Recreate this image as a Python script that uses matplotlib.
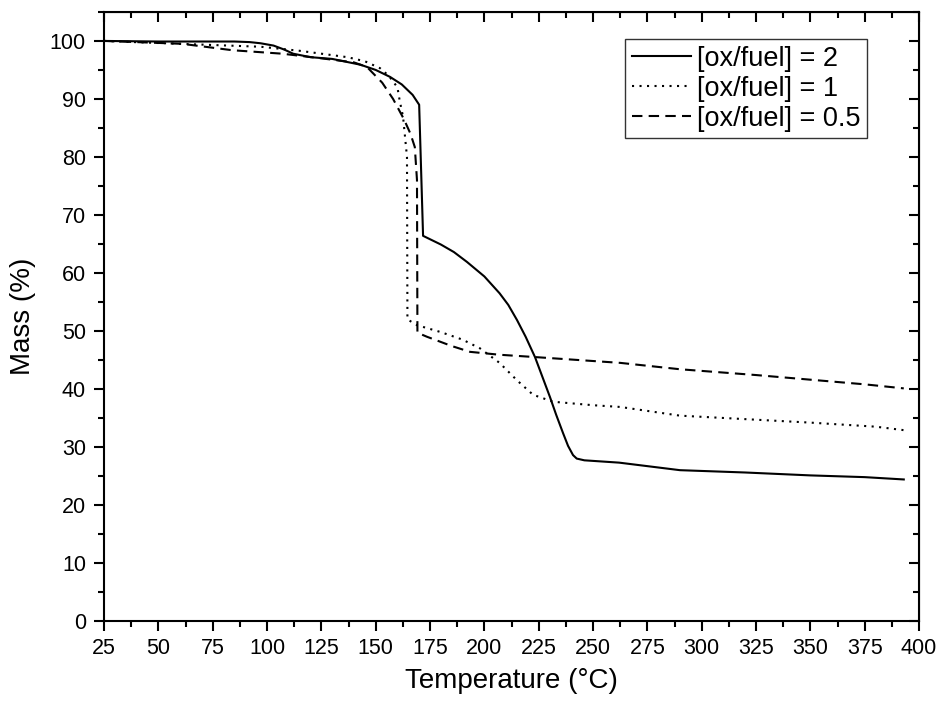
import matplotlib
matplotlib.use("Agg")
import matplotlib.pyplot as plt
from matplotlib.ticker import MultipleLocator

plt.rcParams['font.family'] = ['Liberation Sans', 'DejaVu Sans']

# [ox/fuel] = 2 (solid)
t2 = [25, 50, 70, 85, 92, 97, 103, 108, 112, 120, 130, 143, 150, 156.6, 162, 167, 170, 171.8,
      180, 186, 192, 200, 207, 211, 215, 219, 223.3, 227, 230.2, 233, 236.2, 238.5, 240.8, 242.5, 246,
      262, 290, 320, 350, 375, 393]
m2 = [100, 99.9, 99.9, 99.9, 99.8, 99.6, 99.2, 98.5, 97.8, 97.2, 96.9, 95.9, 95.0, 93.8, 92.5, 90.7, 89.0, 66.4,
      64.9, 63.6, 61.9, 59.4, 56.5, 54.5, 51.9, 49.0, 45.5, 41.8, 38.6, 35.6, 32.4, 30.2, 28.6, 28.0, 27.7,
      27.3, 26.0, 25.6, 25.1, 24.8, 24.4]

# [ox/fuel] = 1 (dotted)
t1 = [25, 60, 97, 115, 137, 145, 152, 156, 160, 161, 162.6, 164.4, 164.6, 169, 180, 190, 198, 207, 215, 222.4, 231.6, 250, 262.5, 290, 320, 350, 380, 393]
m1 = [100, 99.5, 99.0, 98.3, 97.2, 96.5, 95.3, 94.0, 92.0, 89.8, 86.9, 80.0, 52.0, 51.0, 49.8, 48.5, 47.0, 44.5, 41.5, 39.0, 37.8, 37.2, 36.9, 35.4, 34.8, 34.2, 33.5, 32.9]

# [ox/fuel] = 0.5 (dashed)
t05 = [25, 40, 61, 84, 107, 125, 140, 146, 153, 158, 163, 166, 168, 169, 169.2, 173.6, 185, 193.4, 207, 223.3, 262.5, 290, 325, 350, 375, 393]
m05 = [100, 99.8, 99.5, 98.4, 97.8, 97.0, 96.3, 95.5, 92.8, 90.0, 86.5, 84.0, 81.7, 76.0, 49.7, 49.0, 47.4, 46.4, 45.9, 45.5, 44.5, 43.4, 42.4, 41.6, 40.8, 40.1]

labels = ['[ox/fuel] = 2', '[ox/fuel] = 1', '[ox/fuel] = 0.5']

fig = plt.figure(figsize=(9.39, 7.02), dpi=100)
ax = fig.add_axes([0.1108, 0.1154, 0.8679, 0.8676])

ax.plot(t2, m2, color='black', lw=1.5, linestyle='-', label=labels[0])
ax.plot(t1, m1, color='black', lw=1.5, linestyle=(0, (1, 2.6)), label=labels[1])
ax.plot(t05, m05, color='black', lw=1.5, linestyle=(0, (5, 3)), label=labels[2])

ax.set_xlim(25, 400)
ax.set_ylim(0, 105)
ax.xaxis.set_major_locator(MultipleLocator(25))
ax.xaxis.set_minor_locator(MultipleLocator(12.5))
ax.yaxis.set_major_locator(MultipleLocator(10))
ax.yaxis.set_minor_locator(MultipleLocator(5))

for s in ax.spines.values():
    s.set_linewidth(1.5)

ax.tick_params(which='both', direction='out', width=1.5, labelsize=15.5, bottom=True, left=True, top=False, right=False)
ax.tick_params(which='major', length=7)
ax.tick_params(which='minor', length=4)
ax.tick_params(axis='x', which='major', pad=5)
ax.tick_params(axis='y', which='major', pad=6)

axt = ax.secondary_xaxis('top')
axt.xaxis.set_major_locator(MultipleLocator(25))
axt.xaxis.set_minor_locator(MultipleLocator(12.5))
axt.tick_params(which='both', direction='in', width=1.5, labeltop=False)
axt.tick_params(which='major', length=7)
axt.tick_params(which='minor', length=4)
axr = ax.secondary_yaxis('right')
axr.yaxis.set_major_locator(MultipleLocator(10))
axr.yaxis.set_minor_locator(MultipleLocator(5))
axr.tick_params(which='both', direction='in', width=1.5, labelright=False)
axr.tick_params(which='major', length=7)
axr.tick_params(which='minor', length=4)

ax.set_xlabel('Temperature (°C)', fontsize=20, labelpad=7)
ax.set_ylabel('Mass (%)', fontsize=20, labelpad=10)

leg = ax.legend(loc='upper right', bbox_to_anchor=(0.936, 0.956), fontsize=19.5, frameon=True,
                fancybox=False, edgecolor='black', handlelength=2.2, handletextpad=0.2,
                borderpad=0.25, labelspacing=0.15, borderaxespad=0)
leg.get_frame().set_linewidth(1.0)

fig.savefig('out.png', dpi=100)
